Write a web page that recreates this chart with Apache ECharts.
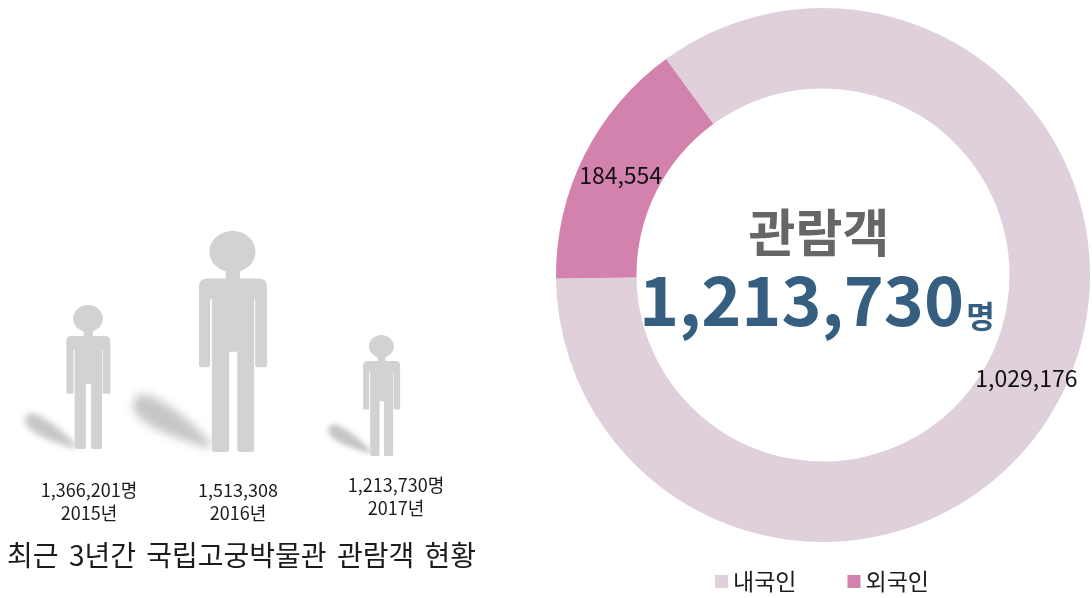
<!DOCTYPE html>
<html><head><meta charset="utf-8">
<style>html,body{margin:0;padding:0;background:#fff}#c{width:1092px;height:598px}</style>
<script src="https://cdn.jsdelivr.net/npm/echarts@6/dist/echarts.min.js"></script>
</head><body><div id="c"></div>
<script>
const years = ['2015년', '2016년', '2017년'];
const visitors = [1366201, 1513308, 1213730];
const visitorSuffix = ['명', '', '명'];
const visitorTypes = ['내국인', '외국인'];
const visitorTypeValues = [1029176, 184554];
const centerTitle = '관람객';
const centerValue = '1,213,730';
const centerUnit = '명';
const chartTitleWords = ['최근', '3년간', '국립고궁박물관', '관람객', '현황'];

// Display styling of the pictograms (the source figure is not drawn to scale)
const personSize = [[44, 144], [68, 221], [37, 121]];
const personOffset = [[1, -7], [-1, -4], [1, 0]];
const shadowSize = [[68, 31], [104, 48], [57, 26]];
const shadowOffset = [[-37, -8.5], [-62, -9], [-31, -3]];
const labelPos = [[89, 501.5], [238, 501.5], [396, 496.5]];

const PERSON = 'path://M99,0 C136.5,0 167,27.8 167,62 C167,84 155,103 136,114 L121,122 L121,143 L176,143 Q201,143 201,168 L201,403 Q201,409 195,409 L172,409 Q166,409 166,403 L166,205 L163,205 L163,656 Q163,664 155,664 L121,664 Q113,664 113,656 L113,363 L89,363 L89,656 Q89,664 81,664 L47,664 Q38,664 38,656 L38,205 L33,205 L33,403 Q33,409 27,409 L6,409 Q0,409 0,403 L0,168 Q0,143 25,143 L79,143 L79,122 L62,114 C43,103 31,84 31,62 C31,27.8 61.5,0 99,0 Z';
const SHADOW_SVG = '<svg xmlns="http://www.w3.org/2000/svg" width="300" height="138" viewBox="0 0 100 46"><defs><filter id="b" x="-30%" y="-60%" width="160%" height="220%"><feGaussianBlur stdDeviation="4.4"/></filter></defs><path filter="url(#b)" fill="#c6c6c6" d="M14,12 C34,7 66,13 90,20 C95,22 95,26 90,27 C62,33 34,39 16,33 C6,29 4,15 14,12Z"/></svg>';
const SHADOW = 'image://data:image/svg+xml;charset=utf-8,' + encodeURIComponent(SHADOW_SVG);
const FONT = '"Noto Sans CJK KR","Noto Sans",sans-serif';

const chart = echarts.init(document.getElementById('c'), null, {renderer: 'canvas'});
chart.setOption({
  animation: false,
  backgroundColor: '#fff',
  color: ['#dfd0dc', '#d282ac'],
  textStyle: {fontFamily: FONT},
  title: [
    {
      text: chartTitleWords.map(w => '{a|' + w + '}').join('{s| }'), left: 2, top: 536,
      textStyle: {rich: {
        a: {fontFamily: FONT, fontSize: 28, fontWeight: 400, color: '#1c1c1c'},
        s: {fontFamily: FONT, fontSize: 28, padding: [0, 2, 0, 2]},
      }},
    },
    {text: centerTitle, left: 814, top: 228, textAlign: 'center', textVerticalAlign: 'middle', textStyle: {fontFamily: FONT, fontSize: 51, fontWeight: 700, color: '#666666'}},
  ],
  legend: {
    data: visitorTypes, left: 710, top: 565, icon: 'rect', itemWidth: 13, itemHeight: 13, itemGap: 51,
    textStyle: {fontFamily: FONT, fontSize: 23, color: '#1c1c1c'},
  },
  grid: {left: 14, width: 440, top: 200, bottom: 142},
  xAxis: {type: 'category', data: years, show: false},
  yAxis: {type: 'value', min: 0, max: 2000000, show: false},
  series: [
    {
      type: 'pictorialBar', name: 'shadow', z: 1, barGap: '-100%', silent: true,
      symbol: SHADOW, symbolPosition: 'start', symbolRotate: -30,
      data: visitors.map((v, i) => ({value: v, symbolSize: shadowSize[i], symbolOffset: shadowOffset[i]})),
    },
    {
      type: 'pictorialBar', name: 'person', z: 2, barGap: '-100%',
      symbol: PERSON, symbolPosition: 'start',
      itemStyle: {color: '#d2d2d2'},
      data: visitors.map((v, i) => ({value: v, symbolSize: personSize[i], symbolOffset: personOffset[i]})),
    },
    {
      type: 'pie', center: [823, 275], radius: [186.5, 267], startAngle: 126, clockwise: true,
      label: {show: true, position: 'inside', fontFamily: FONT, fontSize: 23, color: '#111', formatter: p => p.value.toLocaleString('en-US')},
      labelLine: {show: false}, emphasis: {disabled: true},
      data: visitorTypes.map((n, i) => ({name: n, value: visitorTypeValues[i], label: {offset: i ? [3, 3] : [-2, 0]}})),
    },
  ],
  graphic: [
    ...years.map((y, i) => ({
      type: 'text', x: labelPos[i][0], y: labelPos[i][1],
      style: {text: visitors[i].toLocaleString('en-US') + visitorSuffix[i] + '\n' + y, align: 'center', verticalAlign: 'middle', font: '18px ' + FONT, lineHeight: 23, fill: '#1c1c1c'},
    })),
    {type: 'text', x: 801.5, y: 300, style: {text: centerValue, align: 'center', verticalAlign: 'middle', font: '700 68px ' + FONT, fill: '#355e80'}},
    {type: 'text', x: 980.5, y: 316, style: {text: centerUnit, align: 'center', verticalAlign: 'middle', font: '700 31px ' + FONT, fill: '#355e80'}},
  ],
});
</script></body></html>
